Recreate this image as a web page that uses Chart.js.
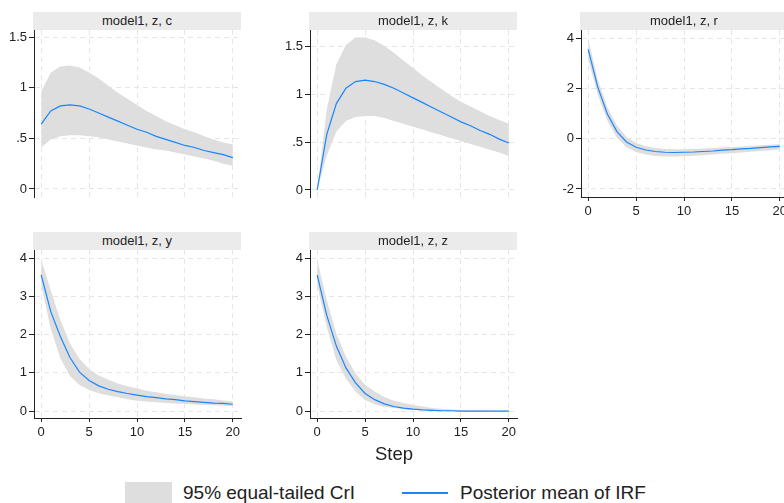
<!DOCTYPE html>
<html>
<head>
<meta charset="utf-8">
<script src="https://cdn.jsdelivr.net/npm/chart.js@4.4.1/dist/chart.umd.min.js"></script>
<style>
  html, body { margin: 0; padding: 0; background: #fff; overflow: hidden; }
  body { width: 784px; height: 503px; position: relative; font-family: 'Liberation Sans', Arial, Helvetica, sans-serif; color: #222; }
  .panel { position: absolute; }
  .strip { position: absolute; height: 18px; line-height: 18px; background: #ebebeb; font-size: 13px; text-align: center; white-space: nowrap; overflow: hidden; }
  #xtitle { position: absolute; left: 344px; width: 100px; top: 443px; text-align: center; font-size: 18.5px; }
  .lg { position: absolute; font-size: 19px; line-height: 22px; top: 482px; white-space: nowrap; }
</style>
</head>
<body>
<div class="panel" id="p_c"><canvas id="c_c"></canvas></div>
<div class="panel" id="p_k"><canvas id="c_k"></canvas></div>
<div class="panel" id="p_r"><canvas id="c_r"></canvas></div>
<div class="panel" id="p_y"><canvas id="c_y"></canvas></div>
<div class="panel" id="p_z"><canvas id="c_z"></canvas></div>
<div id="xtitle">Step</div>
<div id="legend">
  <div style="position:absolute;left:125px;top:482px;width:47px;height:22px;background:#dedede"></div>
  <div class="lg" style="left:183px">95% equal-tailed CrI</div>
  <div style="position:absolute;left:402px;top:492px;width:46px;height:1.5px;background:#1a85ff"></div>
  <div class="lg" style="left:460px">Posterior mean of IRF</div>
</div>
<script>
const steps = [0, 1, 2, 3, 4, 5, 6, 7, 8, 9, 10, 11, 12, 13, 14, 15, 16, 17, 18, 19, 20];
const xTicks = [0, 5, 10, 15, 20];

// response c
const cMean = [0.64, 0.77, 0.82, 0.83, 0.82, 0.79, 0.75, 0.71, 0.67, 0.63, 0.59, 0.56, 0.52, 0.49, 0.46, 0.43, 0.41, 0.38, 0.36, 0.34, 0.31];
const cHi = [0.96, 1.15, 1.21, 1.22, 1.20, 1.15, 1.09, 1.02, 0.95, 0.89, 0.83, 0.77, 0.72, 0.67, 0.63, 0.59, 0.56, 0.52, 0.49, 0.46, 0.44];
const cLo = [0.41, 0.49, 0.52, 0.53, 0.53, 0.52, 0.51, 0.49, 0.47, 0.45, 0.43, 0.41, 0.39, 0.38, 0.36, 0.34, 0.32, 0.30, 0.28, 0.25, 0.23];
const cTicks = [0, 0.5, 1, 1.5];
const cLabels = ['0', '.5', '1', '1.5'];

// response k
const kMean = [0, 0.58, 0.90, 1.06, 1.13, 1.145, 1.13, 1.10, 1.06, 1.01, 0.96, 0.91, 0.86, 0.81, 0.76, 0.71, 0.67, 0.62, 0.58, 0.53, 0.49];
const kHi = [0, 0.84, 1.31, 1.51, 1.59, 1.59, 1.56, 1.50, 1.43, 1.35, 1.27, 1.19, 1.12, 1.05, 0.98, 0.92, 0.87, 0.82, 0.77, 0.73, 0.69];
const kLo = [0, 0.36, 0.61, 0.72, 0.76, 0.77, 0.77, 0.75, 0.72, 0.69, 0.66, 0.63, 0.60, 0.57, 0.54, 0.51, 0.48, 0.45, 0.42, 0.39, 0.355];
const kTicks = [0, 0.5, 1, 1.5];
const kLabels = ['0', '.5', '1', '1.5'];

// response r
const rMean = [3.55, 2.05, 0.98, 0.28, -0.13, -0.34, -0.45, -0.51, -0.54, -0.55, -0.54, -0.53, -0.51, -0.49, -0.46, -0.44, -0.41, -0.39, -0.36, -0.33, -0.31];
const rHi = [3.95, 2.35, 1.25, 0.52, 0.07, -0.17, -0.30, -0.37, -0.41, -0.42, -0.42, -0.41, -0.39, -0.37, -0.35, -0.33, -0.31, -0.29, -0.26, -0.24, -0.21];
const rLo = [3.15, 1.75, 0.72, 0.04, -0.34, -0.53, -0.63, -0.69, -0.71, -0.71, -0.70, -0.68, -0.66, -0.63, -0.60, -0.58, -0.55, -0.52, -0.49, -0.46, -0.43];
const rTicks = [-2, 0, 2, 4];
const rLabels = ['-2', '0', '2', '4'];

// response y
const yMean = [3.56, 2.60, 1.95, 1.40, 1.02, 0.80, 0.66, 0.57, 0.51, 0.46, 0.42, 0.38, 0.35, 0.32, 0.30, 0.27, 0.25, 0.23, 0.21, 0.20, 0.18];
const yHi = [3.97, 3.15, 2.38, 1.77, 1.36, 1.10, 0.93, 0.82, 0.72, 0.65, 0.59, 0.53, 0.49, 0.45, 0.42, 0.39, 0.36, 0.33, 0.31, 0.28, 0.26];
const yLo = [3.30, 2.15, 1.38, 0.92, 0.68, 0.55, 0.47, 0.41, 0.36, 0.31, 0.27, 0.25, 0.23, 0.21, 0.20, 0.19, 0.17, 0.16, 0.15, 0.14, 0.13];
const yTicks = [0, 1, 2, 3, 4];
const yLabels = ['0', '1', '2', '3', '4'];

// response z
const zMean = [3.56, 2.50, 1.70, 1.13, 0.74, 0.46, 0.30, 0.19, 0.12, 0.08, 0.05, 0.03, 0.02, 0.01, 0.01, 0.00, 0.00, 0.00, 0.00, 0.00, 0.00];
const zHi = [3.95, 2.90, 2.03, 1.42, 0.98, 0.68, 0.51, 0.37, 0.27, 0.21, 0.16, 0.12, 0.08, 0.06, 0.04, 0.03, 0.02, 0.02, 0.01, 0.01, 0.01];
const zLo = [3.30, 2.20, 1.33, 0.85, 0.51, 0.29, 0.18, 0.11, 0.08, 0.05, 0.03, 0.02, 0.01, 0.00, 0.00, 0.00, 0.00, 0.00, 0.00, 0.00, -0.01];
const zTicks = [0, 1, 2, 3, 4];
const zLabels = ['0', '1', '2', '3', '4'];

const AXIS_W = 34, PLOT_W = 207, PAD = 12, XAXIS_H = 30;
const FONT = "'Liberation Sans', Arial, Helvetica, sans-serif";
const INK = '#222';

const panels = [
  { key: 'c', title: 'model1, z, c', mean: cMean, hi: cHi, lo: cLo, ticks: cTicks, labels: cLabels, yMin: -0.079, yMax: 1.57, axisX: 34, top: 30, h: 167, showX: false },
  { key: 'k', title: 'model1, z, k', mean: kMean, hi: kHi, lo: kLo, ticks: kTicks, labels: kLabels, yMin: -0.073, yMax: 1.667, axisX: 310, top: 30, h: 167, showX: false },
  { key: 'r', title: 'model1, z, r', mean: rMean, hi: rHi, lo: rLo, ticks: rTicks, labels: rLabels, yMin: -2.32, yMax: 4.32, axisX: 581, top: 30, h: 167, showX: true },
  { key: 'y', title: 'model1, z, y', mean: yMean, hi: yHi, lo: yLo, ticks: yTicks, labels: yLabels, yMin: -0.18, yMax: 4.21, axisX: 34, top: 250, h: 168, showX: true },
  { key: 'z', title: 'model1, z, z', mean: zMean, hi: zHi, lo: zLo, ticks: zTicks, labels: zLabels, yMin: -0.18, yMax: 4.21, axisX: 310, top: 250, h: 168, showX: true }
];

function pts(vals) {
  return steps.map((s, i) => ({ x: s, y: vals[i] }));
}

function renderPanel(p) {
  const wrap = document.getElementById('p_' + p.key);
  const canvas = document.getElementById('c_' + p.key);
  const w = AXIS_W + PLOT_W + PAD;
  const h = PAD + p.h + (p.showX ? XAXIS_H : PAD);
  wrap.style.left = (p.axisX - AXIS_W) + 'px';
  wrap.style.top = (p.top - PAD) + 'px';
  canvas.width = w; canvas.height = h;
  canvas.style.width = w + 'px'; canvas.style.height = h + 'px';

  // facet strip above the plot
  const strip = document.createElement('div');
  strip.className = 'strip';
  strip.style.left = (p.axisX - 1) + 'px';
  strip.style.top = (p.top - 18) + 'px';
  strip.style.width = (PLOT_W + 1) + 'px';
  strip.textContent = p.title;
  document.body.appendChild(strip);

  new Chart(canvas, {
    type: 'line',
    data: {
      datasets: [
        { data: pts(p.mean), borderColor: '#1a85ff', borderWidth: 1.2, pointRadius: 0, fill: false, tension: 0, order: 0 },
        { data: pts(p.hi), borderWidth: 0, borderColor: 'rgba(0,0,0,0)', backgroundColor: '#dedede', pointRadius: 0, fill: '+1', tension: 0, order: 1 },
        { data: pts(p.lo), borderWidth: 0, borderColor: 'rgba(0,0,0,0)', pointRadius: 0, fill: false, tension: 0, order: 2 }
      ]
    },
    options: {
      responsive: false,
      animation: false,
      devicePixelRatio: 1,
      layout: { padding: { top: PAD, right: PAD, left: 0, bottom: p.showX ? 0 : PAD } },
      plugins: { legend: { display: false }, tooltip: { enabled: false } },
      scales: {
        x: {
          type: 'linear',
          min: -0.75,
          max: 20.85,
          afterBuildTicks: s => { s.ticks = xTicks.map(v => ({ value: v })); },
          afterFit: s => { s.height = p.showX ? XAXIS_H : 0; },
          grid: { color: '#e6e6e6', drawTicks: p.showX, tickLength: 4, tickColor: INK, tickBorderDash: [] },
          border: { display: p.showX, color: INK, width: 1, dash: [5, 4] },
          ticks: { display: p.showX, color: INK, padding: 3, maxRotation: 0, autoSkip: false, font: { family: FONT, size: 13 } }
        },
        y: {
          min: p.yMin,
          max: p.yMax,
          afterBuildTicks: s => { s.ticks = p.ticks.map(v => ({ value: v })); },
          afterFit: s => { s.width = AXIS_W; },
          grid: { color: '#e6e6e6', tickLength: 5, tickColor: INK, tickBorderDash: [] },
          border: { display: true, color: INK, width: 1, dash: [5, 4] },
          ticks: {
            color: INK,
            padding: 2,
            font: { family: FONT, size: 13 },
            callback: (v, i) => p.labels[i]
          }
        }
      }
    }
  });
}

panels.forEach(renderPanel);
</script>
</body>
</html>
